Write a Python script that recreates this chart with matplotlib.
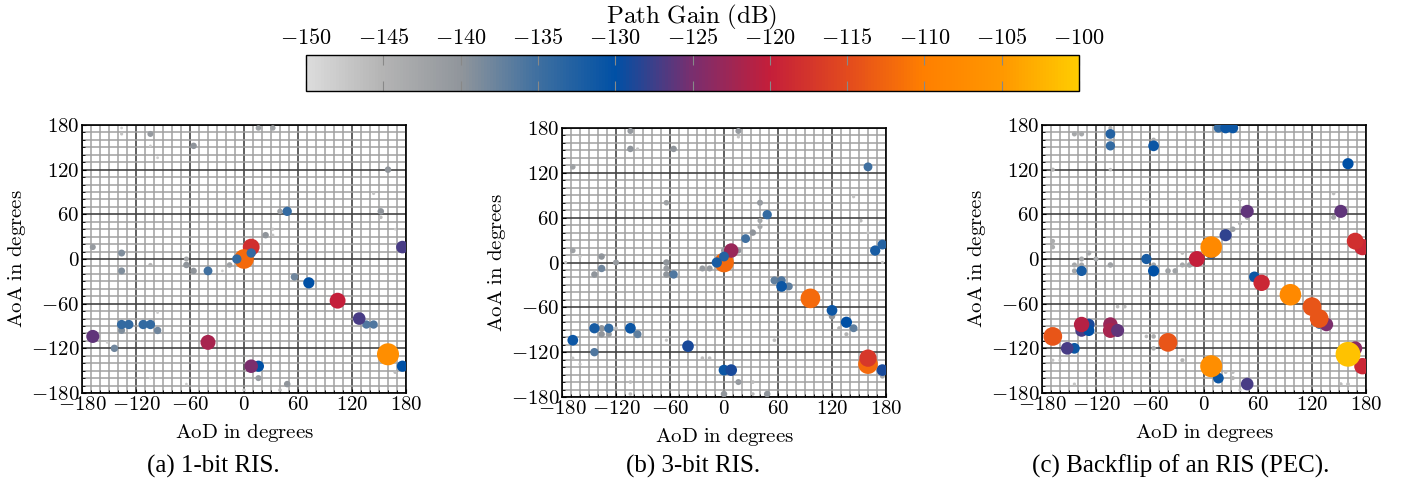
import numpy as np
import matplotlib
matplotlib.use('Agg')
import matplotlib.pyplot as plt
from matplotlib.colors import LinearSegmentedColormap, Normalize
from matplotlib.ticker import FuncFormatter, MultipleLocator
import matplotlib.cm as cm

plt.rcParams['mathtext.fontset'] = 'cm'
plt.rcParams['font.family'] = ['Liberation Serif', 'DejaVu Serif']

# ---- data: (AoD, AoA, path gain in dB) ----
aod_a = [-136, -136, -96, -104, 0, 40, 32, 32, 152, 144, 168, -104, -104, -96, -152, -24, -64, 168,
         -56, -104, 16, 32, 160, 152, 40, 24, -168, -136, -136, -64, -64, -56, -16, 56, 16, 48, -136, -144, -96,
         48, -136, -128, -112, -104, -40, 144, 136,
         104, 72, 128, 176, 176, 16, 8, -40, -168, 160, 8, 0, -8, 8]
aoa_a = [176, 168, 136, -160, -176, -176, 40, 32, 56, 88, -152, -8, 152, -72, -112, -16, -168, 40,
         152, 168, 176, 176, 120, 64, 64, 32, 16, 8, -16, -8, 0, -16, -8, -24, -160, -168, -96, -120, -96,
         64, -88, -88, -88, -88, -16, -88, -88,
         -56, -32, -80, -144, 16, -144, -144, -112, -104, -128, 16, 0, 0, 8]
gain_a = [-148, -147, -148, -148, -147, -146, -147, -147, -146, -147, -146, -145, -148, -148, -148, -148, -148, -148,
          -140, -141, -142, -142, -140, -140, -142, -140, -141, -139, -139, -140, -143, -140, -142, -138, -141, -140, -139, -138, -138,
          -134, -134, -134, -134, -134, -135, -136, -136,
          -120, -130, -127, -130, -127, -130, -125, -122, -126, -107, -118, -112, -134, -134]

aod_b = [-176, -160, -168, -160, -120, -64, -24, -16, 32, 32, -104, -104, 128, 136, 144, 152, 160, 176, 56, -96, 16,
         176, -104, -104, -56, 16, -168, -168, -64, 40, 40, 40, 32, 0, 16, -144, -136, -136, -120, -64, -64, -64,
         -24, -16, -136, -136, -128, 120, 0, 48, 16,
         -56, -96, -144, -128, 56, 64, 72, 144, 24, 48, 160, 168, 176,
         -168, -144, -104, -40, 0, 8, 120, 136, 64, 176, 96, 160, 160, 0, 8, 0, -8]
aoa_b = [0, 8, -128, -136, -88, -104, -128, -128, -160, -176, -160, -176, -88, -96, 88, 56, 40, 0, -104, 152, 168,
         -152, 176, 152, 152, 176, 128, 16, 80, 80, 56, 48, 40, 16, 16, -16, 8, -8, 0, 0, -8, -16,
         -8, -8, -88, -96, -96, -72, -176, -176, -160,
         -16, -96, -120, -88, -24, -24, -32, -88, 32, 64, 128, 16, 24,
         -104, -88, -88, -112, -144, -144, -64, -80, -32, -144, -48, -136, -128, 0, 16, 8, 0]
gain_b = [-147, -147, -147, -147, -146, -147, -146, -146, -146, -146, -146, -146, -145, -145, -147, -146, -147, -147, -146, -147, -147,
          -143, -141, -140, -140, -141, -142, -142, -142, -141, -143, -143, -140, -141, -141, -140, -140, -138, -141, -140, -141, -140,
          -141, -141, -140, -140, -141, -140, -140, -140, -141,
          -136, -137, -136, -134, -137, -136, -137, -137, -135, -134, -135, -132, -133,
          -131, -132, -131, -129, -131, -129, -131, -130, -131, -129, -112, -112, -117, -112, -123, -133, -132]

aod_c = [-168, -160, -104, -144, -64, 152, 160, 40, -24, -96, -88, 176, 24, 32, 32, -104, -64, 144,
         -168, -168, -168, -144, -136, -104, -104, -56, -136, -128, -136, -120, -144, -144, -104, -56, -40, -32,
         -24, -16, -24, -56, -56, 40, 40, 48, 144, 32, 128,
         16, 24, 32, -104, -104, -56, -136, -64, -56, 16, -144, 160, 56,
         -128, -136, -128, -152, 24, 8,
         -136, -104, -104, -96, 48, 48, 152, 168, 136, -8, 64, 176, 176, 168,
         -168, -40, 120, 128, 96, 8, 8, 160]
aoa_c = [-136, -136, -160, -168, 80, -168, -168, -176, -136, -64, -64, 24, -152, -152, -160, 176, -104, 88,
         120, 24, 16, 168, 168, 152, 120, 160, -8, 8, 0, 0, -8, -16, -8, -8, -16, -16,
         -8, -8, 8, -104, -120, 80, 48, 56, 56, 40, -88,
         176, 176, 176, 168, 152, -16, -16, 0, 152, -160, -120, 128, -24,
         -88, -96, -96, -120, 32, 8,
         -88, -88, -96, -96, -168, 64, 64, -120, -88, 0, -32, 16, -144, 24,
         -104, -112, -64, -80, -48, 16, -144, -128]
gain_c = [-147, -147, -147, -147, -147, -146, -146, -147, -145, -146, -146, -146, -146, -146, -145, -145, -146, -146,
          -145, -144, -144, -143, -143, -144, -146, -144, -143, -143, -143, -143, -143, -143, -142, -143, -142, -142,
          -143, -142, -146, -144, -144, -145, -145, -143, -143, -142, -135,
          -134, -131, -131, -133, -134, -130, -132, -132, -131, -131, -131, -130, -131,
          -129, -127, -130, -127, -128, -129,
          -121, -123, -122, -126, -127, -126, -126, -124, -125, -120, -119, -119, -119, -118,
          -114, -114, -114, -114, -108, -108, -107, -101]

captions = ['(a) 1-bit RIS.', '(b) 3-bit RIS.', '(c) Backflip of an RIS (PEC).']

cb_ticks = [-150, -145, -140, -135, -130, -125, -120, -115, -110, -105, -100]
cb_nodes = ['#dcdcdc', '#b3b3b3', '#90959b', '#3e6fa0', '#0050a5', '#7a2e6e',
            '#c41e3a', '#e24a1e', '#ff7f00', '#ff9700', '#ffcc00']

cmap = LinearSegmentedColormap.from_list(
    'pg', list(zip(np.linspace(0, 1, len(cb_nodes)), cb_nodes)))
norm = Normalize(vmin=-150, vmax=-100)

fig = plt.figure(figsize=(14.06, 4.83), dpi=100)
W, H = 1406, 483

def frac(l, t, r, b):
    return [l / W, 1 - b / H, (r - l) / W, (b - t) / H]

boxes = [frac(82, 125, 406, 393), frac(562, 128, 886, 397), frac(1042, 125, 1366, 393)]
cap_x = [213, 693, 1181]
mfmt = FuncFormatter(lambda v, p: r'$\mathrm{%d}$' % v)

panels = [(aod_a, aoa_a, gain_a), (aod_b, aoa_b, gain_b), (aod_c, aoa_c, gain_c)]
for (aod, aoa, gain), box, cap, cx in zip(panels, boxes, captions, cap_x):
    ax = fig.add_axes(box)
    g = np.array(gain, dtype=float)
    d = 1.8 + 0.47 * np.clip(g + 150, 0, None)   # marker diameter in px
    s = (d * 0.72) ** 2
    ax.scatter(aod, aoa, s=s, c=g, cmap=cmap, norm=norm, edgecolors='none', zorder=3)
    ax.set_xlim(-180, 180)
    ax.set_ylim(-180, 180)
    ax.xaxis.set_major_locator(MultipleLocator(60))
    ax.yaxis.set_major_locator(MultipleLocator(60))
    ax.xaxis.set_minor_locator(MultipleLocator(10))
    ax.yaxis.set_minor_locator(MultipleLocator(10))
    ax.xaxis.set_major_formatter(mfmt)
    ax.yaxis.set_major_formatter(mfmt)
    ax.grid(which='minor', color='#a0a0a0', lw=1.1, zorder=0)
    ax.grid(which='major', color='#444444', lw=1.2, zorder=1)
    ax.tick_params(which='both', direction='in', length=3, labelsize=15, pad=2)
    ax.tick_params(which='minor', length=2)
    for sp in ax.spines.values():
        sp.set_linewidth(1.2)
    ax.set_xlabel(r'$\mathrm{AoD\ in\ degrees}$', fontsize=15, labelpad=5)
    ax.set_ylabel(r'$\mathrm{AoA\ in\ degrees}$', fontsize=15, labelpad=2)
    fig.text(cx / W, 1 - 466 / H, cap, ha='center', va='center', fontsize=18)

cax = fig.add_axes(frac(306, 55, 1079, 91))
cb = fig.colorbar(cm.ScalarMappable(norm=norm, cmap=cmap), cax=cax, orientation='horizontal')
cb.set_ticks(cb_ticks)
cb.ax.xaxis.set_major_formatter(mfmt)
cax.tick_params(direction='in', length=7, color='#888888', top=True, bottom=True,
                labeltop=True, labelbottom=False, labelsize=16, pad=4)
cb.outline.set_linewidth(1.0)
fig.text(692 / W, 1 - 17 / H, r'$\mathrm{Path\ Gain\ (dB)}$', ha='center', va='center', fontsize=18)

fig.savefig('out.png', dpi=100)
